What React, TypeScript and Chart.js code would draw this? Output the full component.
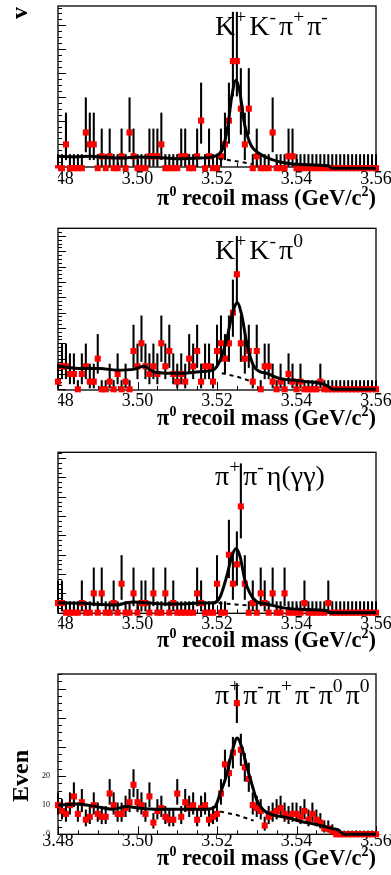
import React, { useEffect, useRef } from "react";
import { Chart, registerables } from "chart.js";

Chart.register(...registerables);

// ---------------- data ----------------
const X_MIN = 3.48;
const X_MAX = 3.56;
const BIN_WIDTH = 0.001;
const X_LABEL_STEP = 0.02;
const X_MINOR_STEP = 0.005;

const TITLE_KKPIPI = "K^{+}K^{-}π^{+}π^{-}";
const TITLE_KKPI0 = "K^{+}K^{-}π^{0}";
const TITLE_PIPIETA = "π^{+}π^{-}η(γγ)";
const TITLE_6PI = "π^{+}π^{-}π^{+}π^{-}π^{0}π^{0}";
const X_TITLE = "π^{0} recoil mass (GeV/c^{2})";
const Y_TITLE_FRAGMENTS = ["v", "", "", "Even"];
const Y_LABELS_6PI = [0, 10, 20];

// events per 1 MeV bin, bins centred at 3.480, 3.481, ... 3.560
const COUNTS_KKPIPI = [
  0, 0, 2, 0, 0, 0, 0, 3, 2, 2,
  0, 1, 0, 1, 0, 0, 1, 0, 3, 1,
  0, 0, 0, 1, 1, 1, 2, 0, 0, 0,
  0, 1, 1, 0, 0, 1, 4, 0, 1, 0,
  0, 1, 2, 4, 9, 9, 5, 2, 5, 0,
  1, 0, 0, 0, 3, 0, 0, 0, 1, 1,
  0, 0, 0, 0, 0, 0, 0, 0, 0, 0,
  0, 0, 0, 0, 0, 0, 0, 0, 0, 0,
  0,
];
const COUNTS_KKPI0 = [
  1, 3, 3, 2, 2, 0, 2, 3, 1, 1,
  4, 0, 0, 1, 0, 2, 0, 1, 0, 5,
  3, 6, 3, 2, 3, 2, 6, 3, 5, 2,
  1, 2, 1, 4, 3, 5, 1, 3, 3, 1,
  5, 6, 4, 6, 10, 15, 6, 4, 5, 1,
  5, 0, 3, 3, 1, 0, 1, 0, 2, 1,
  0, 1, 0, 0, 0, 0, 1, 0, 0, 0,
  0, 0, 0, 0, 0, 0, 0, 0, 0, 0,
  0,
];
const COUNTS_PIPIETA = [
  1, 1, 0, 0, 0, 0, 1, 0, 0, 2,
  0, 2, 0, 0, 1, 0, 3, 0, 0, 2,
  0, 1, 1, 0, 2, 0, 0, 2, 0, 1,
  0, 0, 0, 0, 0, 2, 1, 0, 0, 0,
  3, 0, 0, 6, 3, 5, 11, 3, 0, 1,
  0, 2, 1, 0, 2, 0, 0, 2, 0, 0,
  0, 0, 1, 0, 0, 0, 0, 0, 1, 0,
  0, 0, 0, 0, 0, 0, 0, 0, 0, 0,
  0,
];
const COUNTS_6PI = [
  10, 8, 7, 10, 13, 7, 11, 5, 6, 10,
  7, 6, 6, 14, 10, 7, 7, 9, 11, 17,
  11, 10, 7, 13, 4, 8, 9, 6, 5, 5,
  14, 6, 11, 9, 10, 5, 9, 10, 5, 6,
  7, 14, 24, 21, 28, 45, 29, 23, 19, 10,
  9, 8, 3, 6, 7, 8, 9, 7, 6, 7,
  7, 6, 8, 5, 7, 5, 4, 2, 2, 1,
  0, 0, 0, 0, 0, 0, 0, 0, 0, 0,
  0,
];

// total fit (solid) and background (dashed)
const FIT_KKPIPI_X = [3.48, 3.484, 3.488, 3.492, 3.496, 3.5, 3.505, 3.51, 3.515, 3.519, 3.5205, 3.5215, 3.5228, 3.5237, 3.5248, 3.5258, 3.5266, 3.5275, 3.5283, 3.529, 3.5325, 3.537, 3.541, 3.548, 3.549, 3.56];
const FIT_KKPIPI_Y = [1.0, 0.95, 1.0, 0.9, 0.85, 0.95, 0.9, 0.8, 0.85, 0.95, 1.2, 1.7, 3.7, 6.0, 7.4, 6.3, 4.3, 2.9, 2.1, 1.7, 0.9, 0.45, 0.3, 0.2, 0, 0];
const BKG_KKPIPI_X = [3.5205, 3.5255, 3.5288];
const BKG_KKPIPI_Y = [0.8, 0.55, 0.35];

const FIT_KKPI0_X = [3.48, 3.486, 3.4906, 3.4948, 3.499, 3.5015, 3.504, 3.5073, 3.5115, 3.5157, 3.519, 3.5208, 3.5224, 3.5237, 3.5251, 3.5262, 3.5275, 3.5291, 3.5308, 3.5325, 3.5358, 3.5392, 3.5426, 3.5459, 3.548, 3.549, 3.56];
const FIT_KKPI0_Y = [3.0, 2.7, 2.7, 2.5, 2.6, 3.0, 2.3, 2.1, 2.1, 2.3, 2.5, 3.8, 6.4, 9.5, 11.3, 9.7, 6.0, 3.2, 2.3, 2.1, 1.4, 1.2, 1.0, 0.8, 0.4, 0, 0];
const BKG_KKPI0_X = [3.5212, 3.525, 3.5283];
const BKG_KKPI0_Y = [2.1, 1.65, 1.1];

const FIT_PIPIETA_X = [3.48, 3.4864, 3.4906, 3.4948, 3.4973, 3.499, 3.5032, 3.5073, 3.5115, 3.5157, 3.519, 3.5208, 3.5224, 3.5237, 3.5248, 3.5258, 3.527, 3.5283, 3.53, 3.5325, 3.5367, 3.5409, 3.5476, 3.5486, 3.56];
const FIT_PIPIETA_Y = [1.03, 0.97, 0.86, 0.8, 1.03, 1.1, 1.0, 0.9, 0.9, 1.0, 1.0, 1.65, 3.7, 5.8, 6.65, 5.8, 3.4, 2.0, 1.14, 0.9, 0.5, 0.35, 0.2, 0, 0];
const BKG_PIPIETA_X = [3.5204, 3.5246, 3.5279];
const BKG_PIPIETA_Y = [1.0, 0.86, 0.75];

const FIT_6PI_X = [3.48, 3.4847, 3.4897, 3.4939, 3.4973, 3.5006, 3.5048, 3.509, 3.5132, 3.5174, 3.5195, 3.5208, 3.5224, 3.5237, 3.5251, 3.5262, 3.5275, 3.5287, 3.53, 3.5317, 3.5342, 3.5375, 3.5409, 3.5442, 3.5467, 3.5493, 3.5505, 3.552, 3.56];
const FIT_6PI_Y = [10, 10.4, 9.5, 8.6, 9.5, 8.9, 8.6, 8.6, 8.6, 8.6, 9.5, 14, 20.3, 27.8, 33, 30, 23.2, 17.5, 11.8, 8.3, 6.6, 5.8, 4.5, 3.6, 2.8, 1.9, 1.5, 0, 0];
const BKG_6PI_X = [3.5208, 3.525, 3.5292];
const BKG_6PI_Y = [7.8, 6.6, 4.7];

// 68% Poisson interval half-widths for counts 0..20 (below / above)
const ERR_LOW = [0, 0.83, 1.29, 1.63, 1.91, 2.16, 2.38, 2.58, 2.77, 2.94, 3.11, 3.27, 3.42, 3.56, 3.7, 3.83, 3.96, 4.08, 4.2, 4.32, 4.43];
const ERR_HIGH = [1.15, 2.3, 2.64, 2.92, 3.16, 3.38, 3.58, 3.77, 3.95, 4.11, 4.27, 4.42, 4.56, 4.7, 4.83, 4.96, 5.08, 5.2, 5.32, 5.44, 5.55];

const BIN_CENTERS = COUNTS_KKPIPI.map((_, i) => Math.round((X_MIN + i * BIN_WIDTH) * 10000) / 10000);

const PANELS = [
  { title: TITLE_KKPIPI, counts: COUNTS_KKPIPI, fitX: FIT_KKPIPI_X, fitY: FIT_KKPIPI_Y, bkgX: BKG_KKPIPI_X, bkgY: BKG_KKPIPI_Y, yMin: 0.1, yMax: 13.63, yMajor: 2, yMinor: 0.5 },
  { title: TITLE_KKPI0, counts: COUNTS_KKPI0, fitX: FIT_KKPI0_X, fitY: FIT_KKPI0_Y, bkgX: BKG_KKPI0_X, bkgY: BKG_KKPI0_Y, yMin: -0.09, yMax: 21, yMajor: 2, yMinor: 0.5 },
  { title: TITLE_PIPIETA, counts: COUNTS_PIPIETA, fitX: FIT_PIPIETA_X, fitY: FIT_PIPIETA_Y, bkgX: BKG_PIPIETA_X, bkgY: BKG_PIPIETA_Y, yMin: -0.06, yMax: 16.6, yMajor: 2, yMinor: 0.5 },
  { title: TITLE_6PI, counts: COUNTS_6PI, fitX: FIT_6PI_X, fitY: FIT_6PI_Y, bkgX: BKG_6PI_X, bkgY: BKG_6PI_Y, yMin: 0, yMax: 55, yMajor: 10, yMinor: 2.5 },
];

// ---------------- layout / style ----------------
const W = 391;
const PLOT_LEFT = 58;
const PLOT_RIGHT = 376;
const SERIF = '"Liberation Serif", "DejaVu Serif", serif';

const LAYOUT = [
  { top: 0, height: 210, plotTop: 6, plotBottom: 167, titleBase: 35, axisTitleBase: 205, labelPad: 3, cover: true, showY: false, fragX: 27, fragY: 19 },
  { top: 210, height: 220, plotTop: 228.3, plotBottom: 390, titleBase: 259, axisTitleBase: 425, labelPad: 2, cover: true, showY: false, fragX: 0, fragY: 0 },
  { top: 430, height: 225, plotTop: 452.3, plotBottom: 613.3, titleBase: 485, axisTitleBase: 647, labelPad: 1.7, cover: true, showY: false, fragX: 0, fragY: 0 },
  { top: 655, height: 220, plotTop: 674, plotBottom: 834.3, titleBase: 704, axisTitleBase: 865, labelPad: -2, cover: false, showY: true, fragX: 28, fragY: 802 },
];
const TITLE_X = 215;
const TITLE_SIZE = 28;
const TITLE_SUP = 0.7;
const TITLE_SUP_GAP = 3;
const AXIS_TITLE_SIZE = 22.5;
const AXIS_TITLE_SUP = 0.62;
const TICK_FONT_SIZE = 18;

type Seg = { t: string; sup: boolean };
function parseRich(s: string): Seg[] {
  const out: Seg[] = [];
  const re = /\^\{([^}]*)\}/g;
  let last = 0;
  let m: RegExpExecArray | null;
  while ((m = re.exec(s)) !== null) {
    if (m.index > last) out.push({ t: s.slice(last, m.index), sup: false });
    out.push({ t: m[1], sup: true });
    last = m.index + m[0].length;
  }
  if (last < s.length) out.push({ t: s.slice(last), sup: false });
  return out;
}

function drawRich(
  ctx: CanvasRenderingContext2D,
  s: string,
  x: number,
  y: number,
  size: number,
  supRatio: number,
  supGap: number,
  weight: string,
  align: "left" | "right"
) {
  const segs = parseRich(s);
  const supSize = size * supRatio;
  const fontFor = (sup: boolean) => `${weight} ${sup ? supSize : size}px ${SERIF}`;
  let total = 0;
  for (const g of segs) {
    ctx.font = fontFor(g.sup);
    total += ctx.measureText(g.t).width + (g.sup ? supGap : 0);
  }
  let cx = align === "right" ? x - total : x;
  ctx.textAlign = "left";
  ctx.textBaseline = "alphabetic";
  for (const g of segs) {
    ctx.font = fontFor(g.sup);
    ctx.fillText(g.t, cx, g.sup ? y - size * 0.42 : y);
    cx += ctx.measureText(g.t).width + (g.sup ? supGap : 0);
  }
}

function errLow(n: number) {
  return n < ERR_LOW.length ? ERR_LOW[n] : Math.sqrt(n);
}
function errHigh(n: number) {
  return n < ERR_HIGH.length ? ERR_HIGH[n] : Math.sqrt(n);
}

function Panel({ idx }: { idx: number }) {
  const ref = useRef<HTMLCanvasElement | null>(null);
  const L = LAYOUT[idx];

  useEffect(() => {
    const P = PANELS[idx];
    const canvas = ref.current;
    if (!canvas) return;

    const points = P.counts.map((c, i) => ({ x: BIN_CENTERS[i], y: c }));
    const errs = P.counts.map((c, i) => ({ x: BIN_CENTERS[i], y: [c - errLow(c), c + errHigh(c)] }));
    const fit = P.fitX.map((x, i) => ({ x, y: P.fitY[i] }));
    const bkg = P.bkgX.map((x, i) => ({ x, y: P.bkgY[i] }));

    const xAxisHeight = L.height - (L.plotBottom - L.top);

    const framePlugin = {
      id: "frameTicks",
      beforeDatasetsDraw(chart: any) {
        const { ctx, chartArea: a, scales } = chart;
        const xs = scales.x;
        const ys = scales.y;
        ctx.save();
        ctx.strokeStyle = "#000";
        ctx.lineWidth = 1.3;
        ctx.strokeRect(a.left, a.top, a.right - a.left, a.bottom - a.top);
        ctx.lineWidth = 1;
        ctx.beginPath();
        const nx = Math.round((X_MAX - X_MIN) / X_MINOR_STEP);
        const per = Math.round(X_LABEL_STEP / X_MINOR_STEP);
        for (let k = 0; k <= nx; k++) {
          const px = Math.round(xs.getPixelForValue(X_MIN + k * X_MINOR_STEP)) + 0.5;
          const len = k % per === 0 ? 8 : 4;
          ctx.moveTo(px, a.bottom);
          ctx.lineTo(px, a.bottom - len);
        }
        const k0 = Math.ceil(P.yMin / P.yMinor - 1e-9);
        const k1 = Math.floor(P.yMax / P.yMinor + 1e-9);
        for (let k = k0; k <= k1; k++) {
          const v = k * P.yMinor;
          const py = Math.round(ys.getPixelForValue(v)) + 0.5;
          const r = v / P.yMajor;
          const len = Math.abs(r - Math.round(r)) < 1e-6 ? 8 : 4;
          ctx.moveTo(a.left, py);
          ctx.lineTo(a.left + len, py);
        }
        ctx.stroke();
        ctx.restore();
      },
      afterDraw(chart: any) {
        const { ctx, chartArea: a } = chart;
        ctx.save();
        if (L.cover) {
          ctx.fillStyle = "#fff";
          ctx.fillRect(0, a.bottom + 1.5, a.left, chart.height - a.bottom);
        }
        ctx.fillStyle = "#000";
        drawRich(ctx, P.title, TITLE_X, L.titleBase - L.top, TITLE_SIZE, TITLE_SUP, TITLE_SUP_GAP, "normal", "left");
        drawRich(ctx, X_TITLE, PLOT_RIGHT, L.axisTitleBase - L.top, AXIS_TITLE_SIZE, AXIS_TITLE_SUP, 0, "bold", "right");
        const frag = Y_TITLE_FRAGMENTS[idx];
        if (frag) {
          ctx.translate(L.fragX, L.fragY - L.top);
          ctx.rotate(-Math.PI / 2);
          ctx.font = `bold 24px ${SERIF}`;
          ctx.textAlign = "left";
          ctx.textBaseline = "alphabetic";
          ctx.fillText(frag, 0, 0);
        }
        ctx.restore();
      },
    };

    const chart = new Chart(canvas, {
      type: "scatter",
      data: {
        datasets: [
          {
            type: "line",
            label: "fit",
            data: fit,
            borderColor: "#000",
            borderWidth: 3,
            pointRadius: 0,
            cubicInterpolationMode: "monotone",
            order: 0,
            clip: false,
          } as any,
          {
            type: "line",
            label: "background",
            data: bkg,
            borderColor: "#000",
            borderWidth: 2,
            borderDash: [4, 4],
            pointRadius: 0,
            order: 1,
            clip: false,
          } as any,
          {
            type: "scatter",
            label: "data",
            data: points,
            pointStyle: "rect",
            pointRadius: 4.3,
            backgroundColor: "#ff0000",
            borderWidth: 0,
            order: 2,
            clip: false,
          } as any,
          {
            type: "bar",
            label: "errors",
            data: errs,
            backgroundColor: "#000",
            borderWidth: 0,
            barThickness: 1.4,
            order: 3,
            clip: false,
          } as any,
        ],
      },
      options: {
        responsive: false,
        animation: false,
        events: [],
        layout: { padding: { left: 0, right: W - PLOT_RIGHT, top: L.plotTop - L.top, bottom: 0 } },
        plugins: { legend: { display: false }, tooltip: { enabled: false }, title: { display: false } },
        scales: {
          x: {
            type: "linear",
            min: X_MIN,
            max: X_MAX,
            offset: false,
            grid: { display: false, drawTicks: false },
            border: { display: false },
            ticks: {
              stepSize: X_LABEL_STEP,
              autoSkip: false,
              maxRotation: 0,
              minRotation: 0,
              padding: L.labelPad,
              color: "#000",
              font: { family: SERIF, size: TICK_FONT_SIZE, lineHeight: 1 },
              callback: (v: any) => Number(v).toFixed(2),
            },
            afterFit: (s: any) => {
              s.height = xAxisHeight;
              s.paddingLeft = 0;
              s.paddingRight = 0;
            },
          },
          y: {
            type: "linear",
            min: P.yMin,
            max: P.yMax,
            grid: { display: false, drawTicks: false },
            border: { display: false },
            ticks: {
              display: L.showY,
              stepSize: P.yMajor,
              padding: 8,
              color: "#000",
              font: { family: SERIF, size: 8, lineHeight: 1 },
              callback: (v: any) => (Y_LABELS_6PI.includes(Number(v)) ? String(v) : ""),
            },
            afterFit: (s: any) => {
              s.width = PLOT_LEFT;
              s.paddingTop = 0;
              s.paddingBottom = 0;
            },
          },
        },
      } as any,
      plugins: [framePlugin],
    });

    return () => chart.destroy();
  }, [idx]);

  return (
    <canvas
      ref={ref}
      width={W}
      height={L.height}
      style={{ position: "absolute", left: 0, top: L.top, width: W, height: L.height, display: "block" }}
    />
  );
}

export default function App() {
  return (
    <div style={{ position: "absolute", left: 0, top: 0, width: W, height: 875, background: "#fff", overflow: "hidden" }}>
      {PANELS.map((_, i) => (
        <Panel key={i} idx={i} />
      ))}
    </div>
  );
}
